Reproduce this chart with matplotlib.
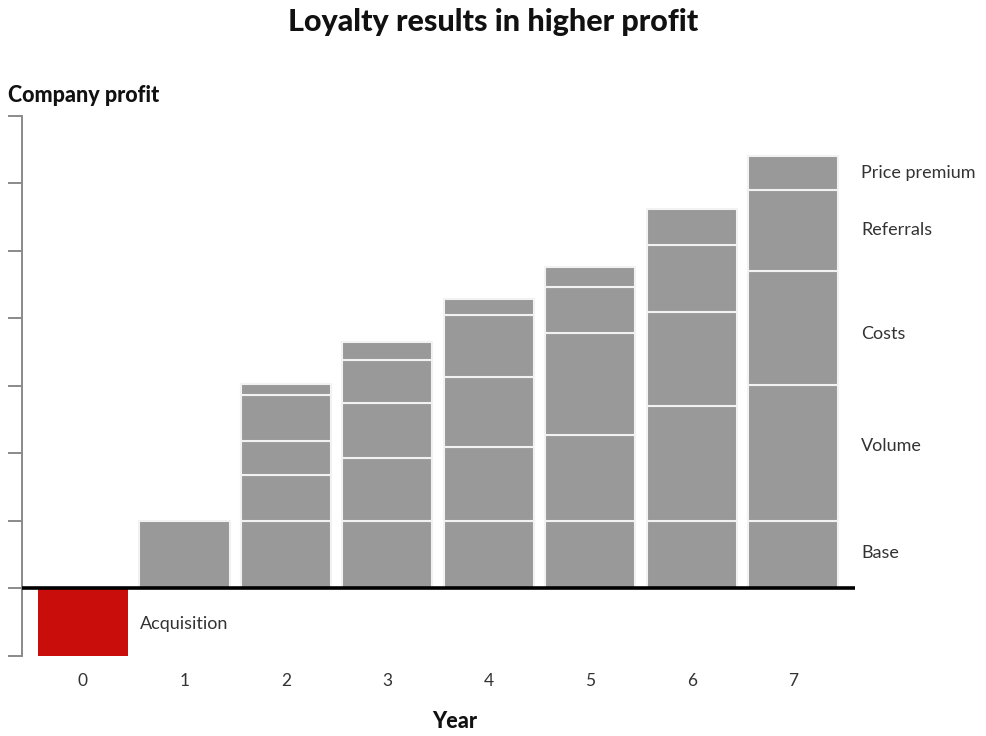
import matplotlib
matplotlib.use("Agg")
import matplotlib.pyplot as plt
import numpy as np

years = [0, 1, 2, 3, 4, 5, 6, 7]
year_labels = ["0", "1", "2", "3", "4", "5", "6", "7"]
acquisition = [-1.0, 0, 0, 0, 0, 0, 0, 0]
base = [0, 1.0, 1.0, 1.0, 1.0, 1.0, 1.0, 1.0]
volume = [0, 0, 0.68, 0.94, 1.10, 1.28, 1.71, 2.01]
costs = [0, 0, 0.50, 0.81, 1.04, 1.50, 1.39, 1.69]
referrals = [0, 0, 0.68, 0.64, 0.91, 0.68, 0.99, 1.21]
premium = [0, 0, 0.17, 0.26, 0.24, 0.30, 0.53, 0.50]
component_names = ["Base", "Volume", "Costs", "Referrals", "Price premium"]
label_y = [0.52, 2.11, 3.77, 5.31, 6.16]

fig = plt.figure(figsize=(9.86, 7.36), dpi=100)
ax = fig.add_axes([0.0223, 0.1087, 0.845, 0.7337])

GRAY = "#999999"
RED = "#c80d0a"
W = 0.89

x = np.array(years)
ax.bar(x[:1], acquisition[:1], width=W, color=RED, edgecolor="none", zorder=2)
bottom = np.zeros(len(years))
for seg in [base, volume, costs, referrals, premium]:
    seg = np.array(seg)
    mask = seg > 0
    ax.bar(x[mask], seg[mask], bottom=bottom[mask], width=W, color=GRAY,
           edgecolor="#f2f2f2", linewidth=1.5, zorder=2)
    bottom = bottom + seg

ax.axhline(0, color="black", linewidth=2.6, zorder=3)

ax.set_xlim(-0.6, 7.61)
ax.set_ylim(-1, 7)
for s in ["top", "right", "bottom"]:
    ax.spines[s].set_visible(False)
ax.spines["left"].set_color("#8a8a8a")
ax.spines["left"].set_linewidth(1.4)
ax.set_yticks(np.arange(-1, 8, 1))
ax.set_yticklabels([])
ax.tick_params(axis="y", length=10, width=1.4, color="#8a8a8a", direction="out")
ax.set_xticks(years)
ax.set_xticklabels(year_labels, fontsize=12.5, color="#333333",
                   family=["Lato", "DejaVu Sans"])
ax.tick_params(axis="x", length=0, pad=12)

lab_font = dict(fontsize=13, color="#333333",
                family=["Lato", "DejaVu Sans"], va="center", ha="left")
for name, yy in zip(component_names, label_y):
    ax.text(7.67, yy, name, **lab_font)
ax.text(0.56, -0.52, "Acquisition", **lab_font)

heavy = dict(fontweight="black", family=["Lato", "DejaVu Sans"], color="#111111")
fig.text(0.5, 1 - 22 / 736, "Loyalty results in higher profit", ha="center", va="center",
         fontsize=22, **heavy)
fig.text(8 / 986, 1 - 95 / 736, "Company profit", ha="left", va="center",
         fontsize=15.5, **heavy)
fig.text(455 / 986, 1 - 722 / 736, "Year", ha="center", va="center",
         fontsize=15.5, **heavy)

fig.savefig("out.png", dpi=100, facecolor="white")
